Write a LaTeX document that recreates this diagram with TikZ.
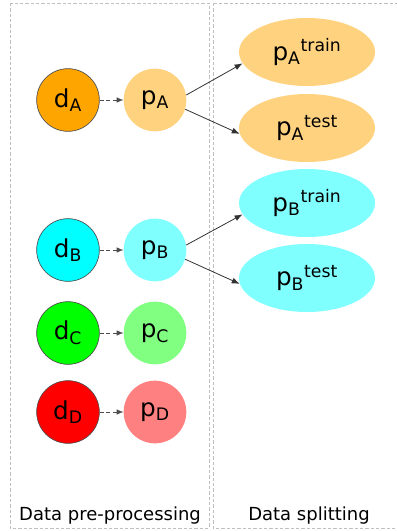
\documentclass[tikz,border=0pt]{standalone}
\usepackage{fontspec}
\setmainfont{DejaVu Sans}
\usetikzlibrary{arrows.meta}
\usetikzlibrary{shapes}
\definecolor{orA}{HTML}{FFA500}
\definecolor{cyB}{HTML}{00FFFF}
\definecolor{grC}{HTML}{00FF00}
\definecolor{rdD}{HTML}{FF0000}

\begin{document}
\begin{tikzpicture}[x=0.75pt,y=-0.75pt,>={Latex[length=6pt,width=4.5pt]}]
    \tikzset{
      box/.style={draw=black!25,dash pattern=on 2.5pt off 1.5pt,line width=0.5pt},
      dnode/.style={circle,draw=black!70,line width=0.5pt,minimum size=47pt,inner sep=0pt,font=\fontsize{18.5}{20}\selectfont},
      pnode/.style={circle,minimum size=47pt,inner sep=0pt,font=\fontsize{18.5}{20}\selectfont},
      snode/.style={ellipse,minimum width=102pt,minimum height=51pt,inner sep=0pt,font=\fontsize{18.5}{20}\selectfont},
      lbl/.style={font=\fontsize{13.5}{16}\selectfont}
    }
    \useasboundingbox (0,0) rectangle (396,531);
    \draw[box] (10,3) rectangle (209,528);
    \draw[box] (213,3) rectangle (402,528);

    \foreach \k/\y/\col in {A/100/orA,B/250/cyB,C/333/grC,D/412/rdD} {
        \node[dnode,fill=\col] (d\k) at (68,\y) {d\textsubscript{\k}};
        \node[pnode,fill=\col!50] (p\k) at (155,\y) {p\textsubscript{\k}};
        \draw[->,densely dashed,black!70,>={Latex[length=5pt,width=4pt]}] (d\k) -- (p\k);
    }
    \foreach \k/\y/\s/\col in {A/52/train/orA,A/128/test/orA,B/203/train/cyB,B/278/test/cyB}
        \node[snode,fill=\col!50] (p\k\s) at (307,\y) {p\textsubscript{\k}\textsuperscript{\s}};

    \foreach \k in {A,B} {
      \draw[->,black!80,line width=0.6pt] (p\k.9) -- (p\k train.190);
      \draw[->,black!80,line width=0.6pt] (p\k.-17) -- (p\k test.185);
    }

    \node[lbl] (lpre) at (110,516) {Data pre-processing};
    \node[lbl] (lsplit) at (309,516) {Data splitting};
\end{tikzpicture}
\end{document}
